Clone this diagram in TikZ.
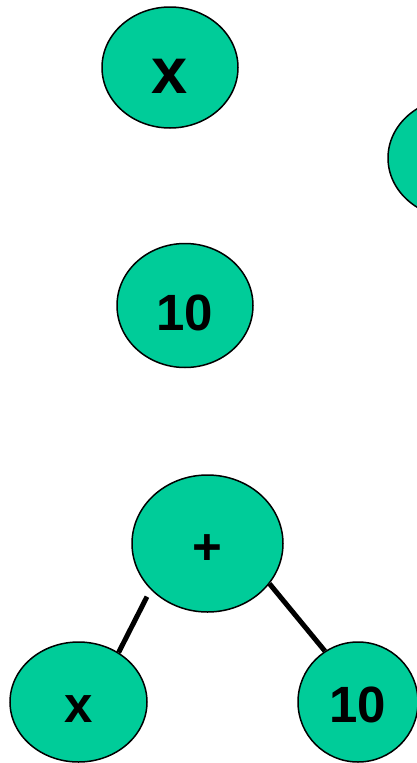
\documentclass[tikz,border=0pt]{standalone}
\usepackage{fontspec}
\setmainfont{Liberation Sans}
\usetikzlibrary{shapes.geometric}
\definecolor{nodegreen}{RGB}{0,204,153}
\begin{document}
\begin{tikzpicture}[x=1pt,y=-1pt,
  bubble/.style={ellipse,draw=black,line width=1.5pt,fill=nodegreen,inner sep=0pt},
  lbl/.style={anchor=base,inner sep=0pt,font=\bfseries\fontsize{51}{55}\selectfont},
  conn/.style={line width=5pt,line cap=butt}]
\useasboundingbox (0,0) rectangle (417,763);
\clip (0,0) rectangle (417,763);
% nodes
\node[bubble,minimum width=136pt,minimum height=121pt] (xtop) at (170,67.5) {};
\node[bubble,minimum width=136pt,minimum height=120pt] (rpart) at (456,158) {};
\node[bubble,minimum width=136pt,minimum height=124pt] (tenmid) at (185,305.5) {};
\node[bubble,minimum width=151pt,minimum height=137pt] (plus) at (207.5,543.5) {};
\node[bubble,minimum width=137pt,minimum height=120pt] (xb) at (78.5,702) {};
\node[bubble,minimum width=120pt,minimum height=120pt] (tb) at (358,702) {};
% labels
\node[lbl,font=\bfseries\fontsize{65}{70}\selectfont] (xtoplbl) at (170,93) {x};
\node[lbl] (tenmidlbl) at (185,330) {10};
\node[lbl] (pluslbl) at (207.5,564) {+};
\node[lbl,font=\bfseries\fontsize{51}{55}\selectfont] (xblbl) at (78.5,722) {x};
\node[lbl] (tblbl) at (358,722) {10};
% connectors
\draw[conn,shorten <=8pt] (plus.219) -- (xb.51);
\draw[conn] (plus.-33) -- (tb.123);
\end{tikzpicture}
\end{document}
